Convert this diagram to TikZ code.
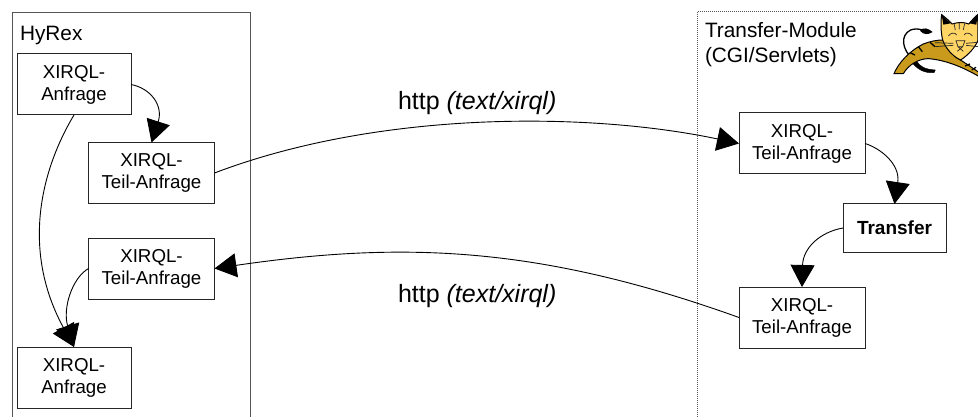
\documentclass[tikz,border=0pt]{standalone}
\usepackage{fontspec}
\setmainfont{Liberation Sans}
\usetikzlibrary{arrows.meta}
\definecolor{framegray}{HTML}{555555}
\definecolor{catbody}{HTML}{C99A1C}
\definecolor{cathead}{HTML}{FFD566}
\tikzset{
  framebox/.style={draw=framegray,line width=1pt,inner sep=0pt,outer sep=0pt},
  dotframe/.style={draw=framegray,line width=1pt,dash pattern=on 1pt off 1pt,inner sep=0pt,outer sep=0pt},
  itembox/.style={draw=black!85,line width=1pt,inner sep=0pt,outer sep=0pt,align=center,
    font=\fontsize{18.7}{22}\selectfont},
  teilbox/.style={itembox,minimum width=126pt,minimum height=61pt},
  anfragebox/.style={itembox,minimum width=114pt,minimum height=61pt},
  title/.style={inner sep=0pt,outer sep=0pt,align=left,anchor=base west,font=\fontsize{20.8}{25}\selectfont},
  proto/.style={inner sep=0pt,outer sep=0pt,anchor=base west,font=\fontsize{25}{28}\selectfont},
  conn/.style={draw=black,line width=0.9pt,-{Triangle[length=22pt,width=24pt]}}
}
\begin{document}
\begin{tikzpicture}[x=1pt,y=-1pt]
\useasboundingbox (0,0) rectangle (978,417);
\clip (0,0) rectangle (978,417);
\fill[white] (0,0) rectangle (978,417);
% frames
\node[framebox,minimum width=238pt,minimum height=430pt] (hyrex) at (131,228) {};
\node[dotframe,minimum width=320pt,minimum height=430pt] (module) at (857,227) {};
\node[title] (hyrexlabel) at (20,41) {HyRex};
\node[title,anchor=north west] (modlabel) at (705,22) {Transfer-Module\\(CGI/Servlets)};
% boxes left
\node[anfragebox] (a1) at (74,84.5) {XIRQL-\\Anfrage};
\node[teilbox] (t1) at (151.5,173) {XIRQL-\\Teil-Anfrage};
\node[teilbox] (t2) at (151.5,268.5) {XIRQL-\\Teil-Anfrage};
\node[anfragebox] (a2) at (74,377.5) {XIRQL-\\Anfrage};
% boxes right
\node[teilbox] (r1) at (802,143.5) {XIRQL-\\Teil-Anfrage};
\node[itembox,minimum width=103pt,minimum height=48pt,font=\fontsize{19}{22}\selectfont\bfseries] (tr) at (894.5,228) {Transfer};
\node[teilbox] (r2) at (802,317.5) {XIRQL-\\Teil-Anfrage};
% labels
\node[proto] (p1) at (398,110) {http \textit{(text/xirql)}};
\node[proto] (p2) at (398,302) {http \textit{(text/xirql)}};
% connectors
\draw[conn] (a1.east) .. controls (150,88) and (163.6,105) .. (t1.north);
\draw[conn] (t1.east) .. controls (380,110) and (590,112) .. (r1.west);
\draw[conn] (r1.east) .. controls (880,148) and (900.5,164) .. (tr.north);
\draw[conn] (tr.west) .. controls (820,232) and (803,248) .. (r2.north);
\draw[conn] (r2.west) .. controls (540,246) and (403,241) .. (t2.east);
\draw[conn] (t2.west) .. controls (72,278) and (62.4,308.6) .. (a2.north);
\draw[conn] (a1.south) .. controls (41,170) and (21,250) .. (a2.north);
% tomcat logo
\begin{scope}[shift={(890,10)},x=0.3333pt,y=-0.3333pt]
  \draw[line width=1.3pt,black] (70,148) .. controls (35,120) and (30,75) .. (62,60) .. controls (72,56) and (85,56) .. (98,60);
  \fill[black] (90,62) .. controls (100,50) and (115,55) .. (128,66) .. controls (115,75) and (100,75) .. (90,62) -- cycle;
  \filldraw[fill=black,draw=black] (78,150) .. controls (88,170) and (105,178) .. (136,180) -- (132,188) .. controls (105,190) and (85,180) .. (68,160) -- cycle;
  \filldraw[fill=catbody,draw=black,line width=1pt] (12,191) .. controls (25,160) and (55,125) .. (100,102) .. controls (120,94) and (140,90) .. (160,90) -- (195,140) .. controls (220,155) and (245,172) .. (268,188) -- (268,200) .. controls (225,175) and (170,150) .. (115,146) .. controls (85,146) and (55,165) .. (40,191) -- cycle;
  \draw[line width=1.3pt,black] (85,110) -- (97,125) (120,97) -- (135,110) (60,128) -- (75,135) (225,168) -- (240,162) (245,180) -- (258,172);
  \filldraw[fill=cathead,draw=black,line width=1pt] (155,14) .. controls (165,22) and (178,32) .. (186,42) .. controls (205,36) and (222,36) .. (236,42) .. controls (245,32) and (253,22) .. (263,14) -- (264,90) .. controls (258,110) and (235,135) .. (212,150) .. controls (190,140) and (168,118) .. (158,90) .. controls (152,65) and (152,35) .. (155,14) -- cycle;
  \fill[black] (155,14) -- (182,40) -- (160,44) -- cycle;
  \fill[black] (263,14) -- (238,40) -- (259,44) -- cycle;
  \draw[line width=0.7pt,black!85] (175,78) .. controls (182,68) and (195,66) .. (200,75) (222,75) .. controls (228,66) and (240,68) .. (247,78)
    (198,92) -- (225,92) -- (218,110) -- (204,110) -- cycle (204,110) -- (220,124) (218,110) -- (202,124)
    (135,98) -- (190,100) (135,110) -- (190,106) (228,100) -- (264,97) (228,106) -- (264,110)
    (192,40) -- (196,60) (208,38) -- (208,58) (224,40) -- (220,60);
\end{scope}
\end{tikzpicture}
\end{document}
